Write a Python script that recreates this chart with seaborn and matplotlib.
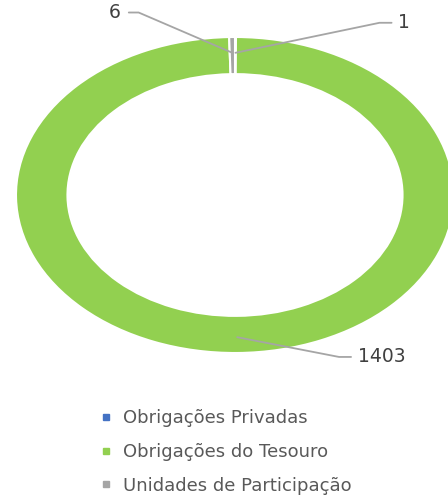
import numpy as np
import matplotlib
matplotlib.use('Agg')
import matplotlib.pyplot as plt
import seaborn as sns
from matplotlib.lines import Line2D

# dados
categorias = ['Obrigações Privadas', 'Obrigações do Tesouro', 'Unidades de Participação']
valores = [1, 1403, 6]
cores = ['#4472C4', '#92D050', '#A5A5A5']

sns.set_theme(style='white')
plt.rcParams['font.family'] = ['DejaVu Sans']

fig = plt.figure(figsize=(4.48, 4.98), dpi=100)
# eixo esticado na horizontal (como no original)
ax = fig.add_axes([16 / 448, 145 / 498, 438 / 448, 316 / 498])

wedges, _ = ax.pie(valores, colors=cores, startangle=90, counterclock=False,
                   wedgeprops=dict(width=0.235, edgecolor='white', linewidth=1.5))
ax.set_aspect('auto')
ax.set_xlim(-1, 1)
ax.set_ylim(-1, 1)
ax.axis('off')

# rótulos com linhas de chamada
pos_texto = {0: (0.72, 1.09), 1: (0.535, -1.025), 2: (-0.49, 1.155)}
for i, w in enumerate(wedges):
    ang = np.deg2rad((w.theta1 + w.theta2) / 2)
    r = 0.9
    ax_, ay_ = r * np.cos(ang), r * np.sin(ang)
    tx, ty = pos_texto[i]
    ha = 'left' if tx > 0 else 'right'
    cotovelo = tx - 0.06 if tx > 0 else tx + 0.05
    ax.plot([ax_, cotovelo, tx - 0.005 if tx > 0 else tx + 0.005], [ay_, ty, ty],
            color='#A5A5A5', lw=1.3, clip_on=False)
    ax.text(tx + (0.025 if tx > 0 else -0.03), ty, str(valores[i]), ha=ha, va='center',
            fontsize=13.5, color='#404040', clip_on=False)

# legenda
handles = [Line2D([0], [0], marker='s', color='none', markerfacecolor=c,
                  markeredgecolor=c, markersize=5) for c in cores]
fig.legend(handles, categorias, loc='upper left', bbox_to_anchor=(90 / 448, 1 - 400 / 498),
           frameon=False, fontsize=13, labelcolor='#595959', handlelength=0.8,
           handletextpad=0.5, labelspacing=0.88, borderpad=0)

fig.savefig('out.png', dpi=100)
